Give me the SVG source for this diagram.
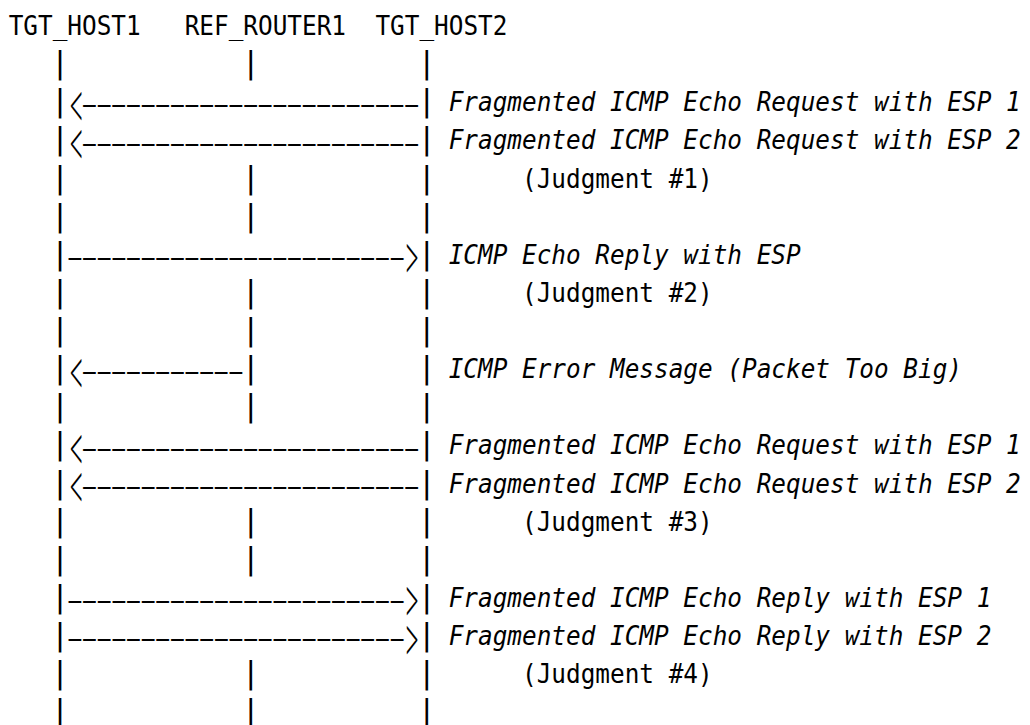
<svg xmlns="http://www.w3.org/2000/svg" width="1030" height="725" viewBox="0 0 1030 725">
  <style>
    .t { font-family: "DejaVu Sans Mono", "Liberation Mono", monospace; font-size: 26px; fill: #000; }
    .it { font-style: italic; }
    .bar { font-family: "DejaVu Sans Mono", "Liberation Mono", monospace; font-size: 30px; fill: #000; text-anchor: middle; }
    .dash { font-family: "Liberation Sans", Arial, sans-serif; font-size: 24px; letter-spacing: -1.24px; fill: #000; }
    .chev { font-family: Lato, "DejaVu Sans", sans-serif; font-weight: 300; font-size: 70px; fill: #000; text-anchor: middle; }
  </style>
  <rect width="1030" height="725" fill="#fff"/>

  <!-- participants: name on top, lifeline drawn with bar characters -->
  <g id="node-tgt-host1">
    <text class="t" x="8.7" y="35" textLength="132" lengthAdjust="spacingAndGlyphs">TGT_HOST1</text>
    <g class="bar">
      <text x="60" y="73.1">|</text><text x="60" y="111.3">|</text><text x="60" y="149.4">|</text>
      <text x="60" y="187.5">|</text><text x="60" y="225.7">|</text><text x="60" y="263.8">|</text>
      <text x="60" y="301.9">|</text><text x="60" y="340">|</text><text x="60" y="378.2">|</text>
      <text x="60" y="416.3">|</text><text x="60" y="454.4">|</text><text x="60" y="492.6">|</text>
      <text x="60" y="530.7">|</text><text x="60" y="568.8">|</text><text x="60" y="607">|</text>
      <text x="60" y="645.1">|</text><text x="60" y="683.2">|</text><text x="60" y="721.3">|</text>
    </g>
  </g>
  <g id="node-ref-router1">
    <text class="t" x="184.7" y="35" textLength="161.3" lengthAdjust="spacingAndGlyphs">REF_ROUTER1</text>
    <g class="bar">
      <text x="250.7" y="73.1">|</text><text x="250.7" y="187.5">|</text><text x="250.7" y="225.7">|</text>
      <text x="250.7" y="301.9">|</text><text x="250.7" y="340">|</text><text x="250.7" y="378.2">|</text>
      <text x="250.7" y="416.3">|</text><text x="250.7" y="530.7">|</text><text x="250.7" y="568.8">|</text>
      <text x="250.7" y="683.2">|</text><text x="250.7" y="721.3">|</text>
    </g>
  </g>
  <g id="node-tgt-host2">
    <text class="t" x="375.4" y="35" textLength="132" lengthAdjust="spacingAndGlyphs">TGT_HOST2</text>
    <g class="bar">
      <text x="426.7" y="73.1">|</text><text x="426.7" y="111.3">|</text><text x="426.7" y="149.4">|</text>
      <text x="426.7" y="187.5">|</text><text x="426.7" y="225.7">|</text><text x="426.7" y="263.8">|</text>
      <text x="426.7" y="301.9">|</text><text x="426.7" y="340">|</text><text x="426.7" y="378.2">|</text>
      <text x="426.7" y="416.3">|</text><text x="426.7" y="454.4">|</text><text x="426.7" y="492.6">|</text>
      <text x="426.7" y="530.7">|</text><text x="426.7" y="568.8">|</text><text x="426.7" y="607">|</text>
      <text x="426.7" y="645.1">|</text><text x="426.7" y="683.2">|</text><text x="426.7" y="721.3">|</text>
    </g>
  </g>

  <!-- messages: dashed shafts, arrowheads and their labels -->
  <g id="connectors">
    <g id="msg-req-1">
      <text class="chev" transform="translate(76.5,129.7) scale(0.4,1)">&lt;</text>
      <text class="dash" transform="translate(80.8,112.4) scale(2.17,1)">-----------------------</text>
      <text class="t it" x="448.7" y="111.3" textLength="572" lengthAdjust="spacingAndGlyphs">Fragmented ICMP Echo Request with ESP 1</text>
    </g>
    <g id="msg-req-2">
      <text class="chev" transform="translate(76.5,167.8) scale(0.4,1)">&lt;</text>
      <text class="dash" transform="translate(80.8,150.5) scale(2.17,1)">-----------------------</text>
      <text class="t it" x="448.7" y="149.4" textLength="572" lengthAdjust="spacingAndGlyphs">Fragmented ICMP Echo Request with ESP 2</text>
    </g>
    <text class="t" x="522" y="187.5" textLength="190.7" lengthAdjust="spacingAndGlyphs">(Judgment #1)</text>

    <g id="msg-reply">
      <text class="dash" transform="translate(66.2,264.9) scale(2.17,1)">-----------------------</text>
      <text class="chev" transform="translate(411.7,282.2) scale(0.4,1)">&gt;</text>
      <text class="t it" x="448.7" y="263.8" textLength="352" lengthAdjust="spacingAndGlyphs">ICMP Echo Reply with ESP</text>
    </g>
    <text class="t" x="522" y="301.9" textLength="190.7" lengthAdjust="spacingAndGlyphs">(Judgment #2)</text>

    <g id="msg-ptb">
      <text class="chev" transform="translate(76.5,396.6) scale(0.4,1)">&lt;</text>
      <text class="dash" transform="translate(80.8,379.3) scale(2.17,1)">-----------</text>
      <text class="t it" x="448.7" y="378.2" textLength="513.3" lengthAdjust="spacingAndGlyphs">ICMP Error Message (Packet Too Big)</text>
    </g>

    <g id="msg-req-3">
      <text class="chev" transform="translate(76.5,472.8) scale(0.4,1)">&lt;</text>
      <text class="dash" transform="translate(80.8,455.5) scale(2.17,1)">-----------------------</text>
      <text class="t it" x="448.7" y="454.4" textLength="572" lengthAdjust="spacingAndGlyphs">Fragmented ICMP Echo Request with ESP 1</text>
    </g>
    <g id="msg-req-4">
      <text class="chev" transform="translate(76.5,511) scale(0.4,1)">&lt;</text>
      <text class="dash" transform="translate(80.8,493.7) scale(2.17,1)">-----------------------</text>
      <text class="t it" x="448.7" y="492.6" textLength="572" lengthAdjust="spacingAndGlyphs">Fragmented ICMP Echo Request with ESP 2</text>
    </g>
    <text class="t" x="522" y="530.7" textLength="190.7" lengthAdjust="spacingAndGlyphs">(Judgment #3)</text>

    <g id="msg-reply-1">
      <text class="dash" transform="translate(66.2,608.1) scale(2.17,1)">-----------------------</text>
      <text class="chev" transform="translate(411.7,625.4) scale(0.4,1)">&gt;</text>
      <text class="t it" x="448.7" y="607" textLength="542.7" lengthAdjust="spacingAndGlyphs">Fragmented ICMP Echo Reply with ESP 1</text>
    </g>
    <g id="msg-reply-2">
      <text class="dash" transform="translate(66.2,646.2) scale(2.17,1)">-----------------------</text>
      <text class="chev" transform="translate(411.7,663.5) scale(0.4,1)">&gt;</text>
      <text class="t it" x="448.7" y="645.1" textLength="542.7" lengthAdjust="spacingAndGlyphs">Fragmented ICMP Echo Reply with ESP 2</text>
    </g>
    <text class="t" x="522" y="683.2" textLength="190.7" lengthAdjust="spacingAndGlyphs">(Judgment #4)</text>
  </g>
</svg>
